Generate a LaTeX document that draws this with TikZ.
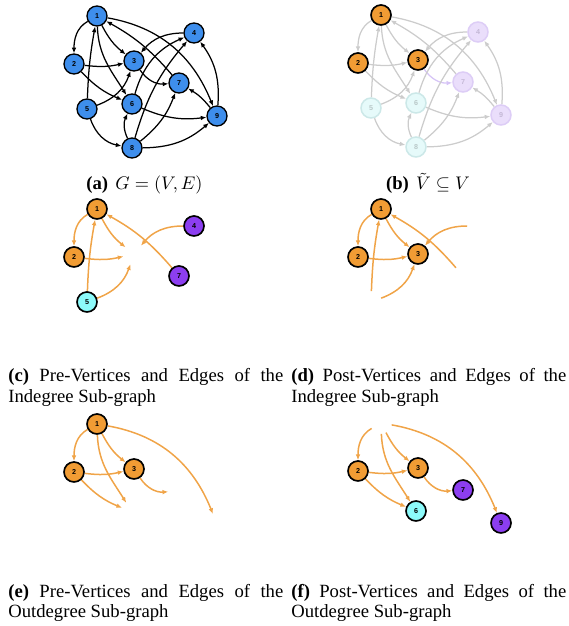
\documentclass[tikz,border=0pt]{standalone}
\usepackage{fontspec}
\setmainfont{Liberation Serif}
\newfontfamily\vtxfont{Liberation Sans}
\usetikzlibrary{arrows.meta}
\hyphenpenalty=10000
\exhyphenpenalty=10000

\definecolor{vblue}{RGB}{62,142,236}
\definecolor{vorange}{RGB}{241,156,52}
\definecolor{vpurple}{RGB}{140,62,240}
\definecolor{vcyan}{RGB}{140,250,250}
\definecolor{eorange}{RGB}{240,164,72}
\definecolor{egray}{RGB}{204,204,204}
\definecolor{elilac}{RGB}{214,196,246}
\definecolor{pcyanfill}{RGB}{230,250,250}
\definecolor{pcyanline}{RGB}{204,232,232}
\definecolor{pcyantext}{RGB}{185,200,200}
\definecolor{ppurpfill}{RGB}{234,222,251}
\definecolor{ppurpline}{RGB}{221,205,246}
\definecolor{ppurptext}{RGB}{196,184,214}

\pgfdeclarelayer{edges}
\pgfsetlayers{edges,main}

\tikzset{
  vtx/.style={circle, draw=black, line width=0.9pt, minimum size=12pt, inner sep=0pt,
    font=\vtxfont\bfseries\fontsize{4.3}{4.3}\selectfont},
  bluevtx/.style={vtx, fill=vblue, line width=0.8pt},
  orangevtx/.style={vtx, fill=vorange, line width=1pt},
  purplevtx/.style={vtx, fill=vpurple, line width=1pt},
  cyanvtx/.style={vtx, fill=vcyan, line width=1pt},
  palecyan/.style={vtx, draw=pcyanline, fill=pcyanfill, text=pcyantext},
  palepurple/.style={vtx, draw=ppurpline, fill=ppurpfill, text=ppurptext},
  ghost/.style={circle, minimum size=12pt, inner sep=0pt, line width=1pt},
  link/.style={line width=0.75pt, -{Latex[length=3.4pt,width=2.8pt]}},
  blacklink/.style={link, draw=black},
  graylink/.style={link, draw=egray},
  orangelink/.style={link, draw=eorange, line width=0.9pt},
  lnk/.style={blacklink},
  % shape of each edge of the graph
  e12/.style={out=210,in=90},
  e13/.style={bend right=12},
  e16/.style={out=-88,in=122},
  e19/.style={out=-10,in=112},
  e71/.style={bend right=10},
  e23/.style={bend right=10},
  e26/.style={bend right=12},
  e51/.style={bend left=4},
  e53/.style={bend right=25},
  e58/.style={bend right=30},
  e43/.style={bend right=25},
  e37/.style={bend right=30},
  e64/.style={bend left=25},
  e69/.style={bend right=15},
  e86/.style={bend left=25},
  e84/.style={bend left=12},
  e87/.style={bend right=15},
  e89/.style={bend right=20},
  e94/.style={bend right=20},
  e97/.style={bend right=10},
  captxt/.style={inner sep=0pt, font=\fontsize{11.2}{12.4}\selectfont},
  subcap/.style={captxt, text width=165pt, align=justify, anchor=base west},
}

\newcommand\gedge[3]{\draw[lnk,e#2#3] (#1#2) to (#1#3);}
\newcommand\alledges[1]{%
  \gedge{#1}12 \gedge{#1}13 \gedge{#1}16 \gedge{#1}19 \gedge{#1}71
  \gedge{#1}23 \gedge{#1}26 \gedge{#1}51 \gedge{#1}53 \gedge{#1}58
  \gedge{#1}43 \gedge{#1}37 \gedge{#1}64 \gedge{#1}69 \gedge{#1}86
  \gedge{#1}84 \gedge{#1}87 \gedge{#1}89 \gedge{#1}94 \gedge{#1}97}
\newcommand\inedges[1]{%
  \gedge{#1}12 \gedge{#1}13 \gedge{#1}23 \gedge{#1}51 \gedge{#1}53
  \gedge{#1}43 \gedge{#1}71}
\newcommand\outedges[1]{%
  \gedge{#1}12 \gedge{#1}13 \gedge{#1}16 \gedge{#1}19 \gedge{#1}23
  \gedge{#1}26 \gedge{#1}37}

\begin{document}
\begin{tikzpicture}[x=0.6pt,y=0.6pt]
\useasboundingbox (0,0) rectangle (568,626);

% (a) the whole graph
\begin{scope}[lnk/.style={blacklink}]
  \node[bluevtx] (a1) at (97,610) {1};
  \node[bluevtx] (a2) at (74,562) {2};
  \node[bluevtx] (a3) at (134,565) {3};
  \node[bluevtx] (a4) at (194,593) {4};
  \node[bluevtx] (a5) at (87,517) {5};
  \node[bluevtx] (a6) at (132,522) {6};
  \node[bluevtx] (a7) at (179,543) {7};
  \node[bluevtx] (a8) at (132,478) {8};
  \node[bluevtx] (a9) at (217,510) {9};
  \begin{pgfonlayer}{edges}\alledges{a}\end{pgfonlayer}
\end{scope}

% (b) the chosen vertex subset
\begin{scope}[shift={(284,1)}, lnk/.style={graylink}, e37/.append style={draw=elilac}]
  \node[orangevtx] (b1) at (97,610) {1};
  \node[orangevtx] (b2) at (74,562) {2};
  \node[orangevtx] (b3) at (134,565) {3};
  \node[palepurple] (b4) at (194,593) {4};
  \node[palecyan] (b5) at (87,517) {5};
  \node[palecyan] (b6) at (132,522) {6};
  \node[palepurple] (b7) at (179,543) {7};
  \node[palecyan] (b8) at (132,478) {8};
  \node[palepurple] (b9) at (217,510) {9};
  \begin{pgfonlayer}{edges}\alledges{b}\end{pgfonlayer}
\end{scope}

% (c) indegree sub-graph, pre-vertices
\begin{scope}[shift={(0,-193)}, lnk/.style={orangelink}]
  \node[orangevtx] (c1) at (97,610) {1};
  \node[orangevtx] (c2) at (74,562) {2};
  \node[ghost] (c3) at (134,565) {};
  \node[purplevtx] (c4) at (194,593) {4};
  \node[cyanvtx] (c5) at (87,517) {5};
  \node[purplevtx] (c7) at (179,543) {7};
  \begin{pgfonlayer}{edges}\inedges{c}\end{pgfonlayer}
\end{scope}

% (d) indegree sub-graph, post-vertices
\begin{scope}[shift={(284,-193)}, lnk/.style={orangelink}]
  \node[orangevtx] (d1) at (97,610) {1};
  \node[orangevtx] (d2) at (74,562) {2};
  \node[orangevtx] (d3) at (134,565) {3};
  \node[ghost] (d4) at (194,593) {};
  \node[ghost] (d5) at (87,517) {};
  \node[ghost] (d7) at (179,543) {};
  \begin{pgfonlayer}{edges}\inedges{d}\end{pgfonlayer}
\end{scope}

% (e) outdegree sub-graph, pre-vertices
\begin{scope}[shift={(0,-408)}, lnk/.style={orangelink}]
  \node[orangevtx] (e1) at (97,610) {1};
  \node[orangevtx] (e2) at (74,562) {2};
  \node[orangevtx] (e3) at (134,565) {3};
  \node[ghost] (e6) at (132,522) {};
  \node[ghost] (e7) at (179,543) {};
  \node[ghost] (e9) at (217,510) {};
  \begin{pgfonlayer}{edges}\outedges{e}\end{pgfonlayer}
\end{scope}

% (f) outdegree sub-graph, post-vertices
\begin{scope}[shift={(284,-407)}, lnk/.style={orangelink}]
  \node[ghost] (f1) at (97,610) {};
  \node[orangevtx] (f2) at (74,562) {2};
  \node[orangevtx] (f3) at (134,565) {3};
  \node[cyanvtx] (f6) at (132,522) {6};
  \node[purplevtx] (f7) at (179,543) {7};
  \node[purplevtx] (f9) at (217,510) {9};
  \begin{pgfonlayer}{edges}\outedges{f}\end{pgfonlayer}
\end{scope}

% captions
\node[captxt, anchor=base] (capa) at (144.5,436) {\textbf{(a)}\hspace{1.5pt} $G=(V,E)$};
\node[captxt, anchor=base] (capb) at (428,436) {\textbf{(b)}\hspace{1.5pt} $\tilde{V}\subseteq V$};
\node[subcap] (capc) at (8,244) {\textbf{(c)} Pre-Vertices and Edges of the Indegree Sub-graph};
\node[subcap] (capd) at (291,244) {\textbf{(d)} Post-Vertices and Edges of the Indegree Sub-graph};
\node[subcap] (cape) at (8,29) {\textbf{(e)} Pre-Vertices and Edges of the Outdegree Sub-graph};
\node[subcap] (capf) at (291,29) {\textbf{(f)} Post-Vertices and Edges of the Outdegree Sub-graph};
\end{tikzpicture}
\end{document}
